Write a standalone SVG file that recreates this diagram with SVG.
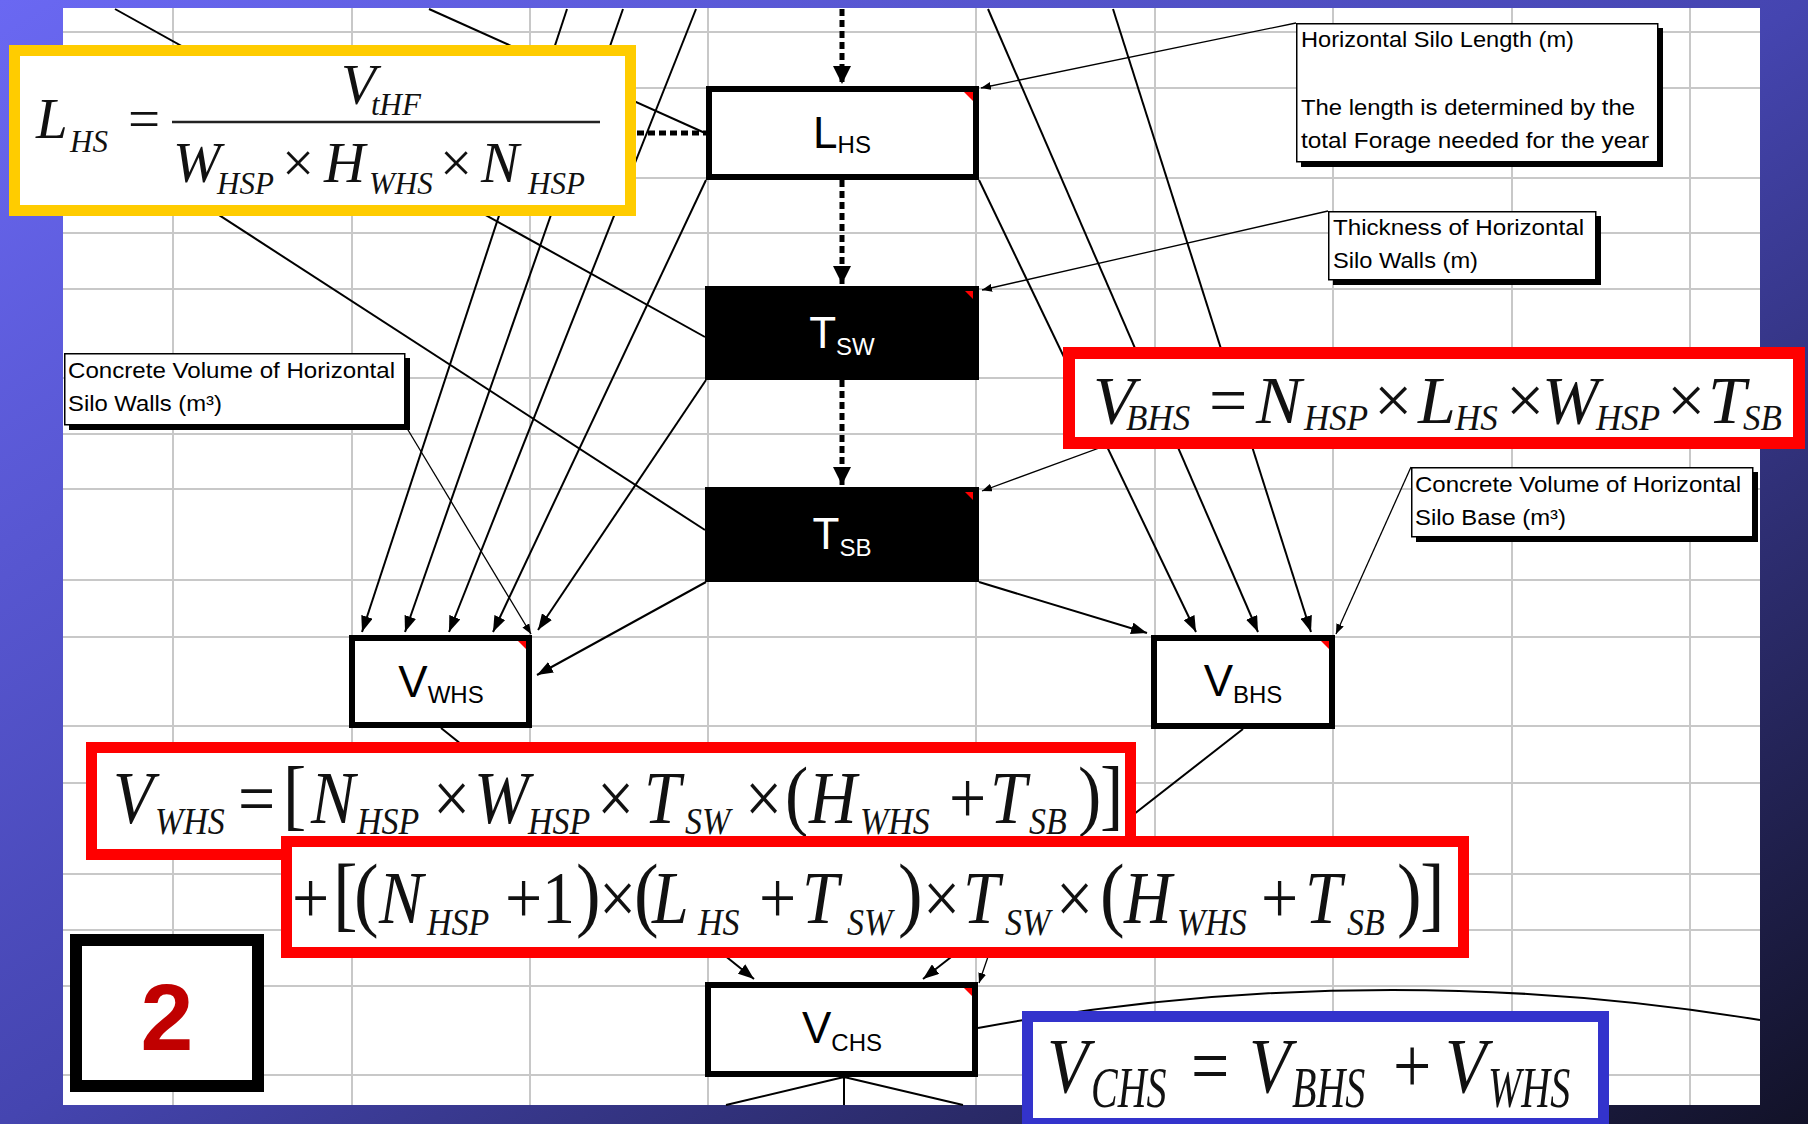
<svg xmlns="http://www.w3.org/2000/svg" width="1808" height="1124" viewBox="0 0 1808 1124">
<defs>
<linearGradient id="bg" x1="0" y1="0" x2="1" y2="1">
<stop offset="0" stop-color="#6a68f2"/>
<stop offset="0.5" stop-color="#4545b0"/>
<stop offset="1" stop-color="#121228"/>
</linearGradient>
<marker id="ah" viewBox="0 0 16 12" refX="16" refY="6" markerWidth="16" markerHeight="12" markerUnits="userSpaceOnUse" orient="auto"><path d="M0,0 L16,6 L0,12 Z" fill="#000"/></marker>
<marker id="ahs" viewBox="0 0 10 8" refX="10" refY="4" markerWidth="10" markerHeight="8" markerUnits="userSpaceOnUse" orient="auto"><path d="M0,0 L10,4 L0,8 Z" fill="#000"/></marker>
<marker id="ahd" viewBox="0 0 18 18" refX="18" refY="9" markerWidth="18" markerHeight="18" markerUnits="userSpaceOnUse" orient="auto"><path d="M0,0 L18,9 L0,18 Z" fill="#000"/></marker>
<style>
.grid{fill:none;stroke:#c8c8c8;stroke-width:2}
.ln{fill:none;stroke:#000;stroke-width:2}
.ar{fill:none;stroke:#000;stroke-width:2;marker-end:url(#ah)}
.pt{fill:none;stroke:#000;stroke-width:1.3;marker-end:url(#ahs)}
.dt{fill:none;stroke:#000;stroke-width:5;stroke-dasharray:7 4}
.dta{marker-end:url(#ahd)}
.box{fill:#fff;stroke:#000;stroke-width:6}
.blk{fill:#000}
.nt{font-family:"Liberation Sans",Arial,sans-serif;font-size:44px;text-anchor:middle;fill:#000}
.wt{fill:#fff}
.ns{font-size:24px}
.red{fill:#f00}
.sh{fill:#000}
.cb{fill:#fff;stroke:#000;stroke-width:1.5}
.ct{font-family:"Liberation Sans",Arial,sans-serif;font-size:22px;fill:#000}
.mi{font-family:"Liberation Serif","Times New Roman",serif;font-style:italic;fill:#111}
.up{font-style:normal}
</style>
</defs>

<rect x="0" y="0" width="1808" height="1124" fill="url(#bg)"/>
<rect x="63" y="8" width="1697" height="1097" fill="#fff"/>
<path class="grid" d="M173,8V1105M352,8V1105M530,8V1105M708,8V1105M976,8V1105M1155,8V1105M1333,8V1105M1512,8V1105M1690,8V1105M63,32H1760M63,88H1760M63,178H1760M63,233H1760M63,289H1760M63,378H1760M63,434H1760M63,489H1760M63,580H1760M63,637H1760M63,726H1760M63,783H1760M63,874H1760M63,930H1760M63,986H1760M63,1075H1760"/>

<g id="connectors">
<path class="ln" d="M115,9 L705,337"/>
<path class="ln" d="M429,9 L705,133"/>
<path class="ln" d="M63,114 L705,530"/>
<path class="ar" d="M567,9 L362,632"/>
<path class="ar" d="M623,9 L405,632"/>
<path class="ar" d="M696,9 L449,632"/>
<path class="ar" d="M706,180 L493,632"/>
<path class="ar" d="M706,380 L538,630"/>
<path class="ar" d="M706,582 L537,675"/>
<path class="ar" d="M979,582 L1147,633"/>
<path class="ar" d="M979,180 L1196,632"/>
<path class="ar" d="M988,9 L1258,632"/>
<path class="ar" d="M1113,9 L1311,632"/>
<path class="ar" d="M441,728 L754,979"/>
<path class="ar" d="M1243,729 L923,979"/>
<path class="ln" d="M844,1077 L726,1105 M844,1077 L844,1105 M844,1077 L963,1105"/>
<path class="ln" d="M978,1028 Q1369,956 1760,1020"/>
<path class="pt" d="M1296,23 L981,88"/>
<path class="pt" d="M1328,211 L982,290"/>
<path class="pt" d="M1170,422 L982,491"/>
<path class="pt" d="M1411,467 L1336,634"/>
<path class="pt" d="M405,425 L531,634"/>
<path class="pt" d="M992,945 L979,983"/>
<path class="dt dta" d="M842,9 L842,84"/>
<path class="dt dta" d="M842,180 L842,284"/>
<path class="dt dta" d="M842,380 L842,485"/>
<path class="dt" d="M637,133 L706,133"/>
</g>

<g id="node-lhs"><rect class="box" x="709" y="89" width="267" height="88"/><polygon class="red" points="964,92 973,92 973,101"/><text class="nt" x="842" y="148">L<tspan class="ns" dy="5">HS</tspan></text></g>
<g id="node-tsw"><rect class="blk" x="705" y="286" width="274" height="94"/><polygon class="red" points="965,291 973,291 973,299"/><text class="nt wt" x="842" y="348">T<tspan class="ns" dy="7">SW</tspan></text></g>
<g id="node-tsb"><rect class="blk" x="705" y="487" width="274" height="95"/><polygon class="red" points="965,492 973,492 973,500"/><text class="nt wt" x="842" y="549">T<tspan class="ns" dy="7">SB</tspan></text></g>
<g id="node-vwhs"><rect class="box" x="352" y="638" width="177" height="87"/><polygon class="red" points="518,641 526,641 526,649"/><text class="nt" x="441" y="697">V<tspan class="ns" dy="6">WHS</tspan></text></g>
<g id="node-vbhs"><rect class="box" x="1154" y="638" width="178" height="88"/><polygon class="red" points="1321,641 1329,641 1329,649"/><text class="nt" x="1243" y="696">V<tspan class="ns" dy="7">BHS</tspan></text></g>
<g id="node-vchs"><rect class="box" x="708" y="985" width="267" height="89"/><polygon class="red" points="964,988 972,988 972,996"/><text class="nt" x="842" y="1043">V<tspan class="ns" dy="8">CHS</tspan></text></g>

<g id="callout-length"><rect class="sh" x="1301" y="28" width="362" height="139"/><rect class="cb" x="1296.75" y="23.75" width="361" height="138"/>
<text class="ct" x="1301" y="47" textLength="273" lengthAdjust="spacingAndGlyphs">Horizontal Silo Length (m)</text>
<text class="ct" x="1301" y="115" textLength="334" lengthAdjust="spacingAndGlyphs">The length is determined by the</text>
<text class="ct" x="1301" y="148" textLength="348" lengthAdjust="spacingAndGlyphs">total Forage needed for the year</text></g>
<g id="callout-thickness"><rect class="sh" x="1333" y="216" width="268" height="69"/><rect class="cb" x="1328.75" y="211.75" width="267" height="68"/>
<text class="ct" x="1333" y="235" textLength="251" lengthAdjust="spacingAndGlyphs">Thickness of Horizontal</text>
<text class="ct" x="1333" y="268" textLength="145" lengthAdjust="spacingAndGlyphs">Silo Walls (m)</text></g>
<g id="callout-base"><rect class="sh" x="1416" y="472" width="342" height="70"/><rect class="cb" x="1411.75" y="467.75" width="341" height="69"/>
<text class="ct" x="1415" y="492" textLength="326" lengthAdjust="spacingAndGlyphs">Concrete Volume of Horizontal</text>
<text class="ct" x="1415" y="525" textLength="151" lengthAdjust="spacingAndGlyphs">Silo Base (m³)</text></g>
<g id="callout-walls"><rect class="sh" x="69" y="358" width="341" height="72"/><rect class="cb" x="64.75" y="353.75" width="340" height="71"/>
<text class="ct" x="68" y="378" textLength="327" lengthAdjust="spacingAndGlyphs">Concrete Volume of Horizontal</text>
<text class="ct" x="68" y="411" textLength="154" lengthAdjust="spacingAndGlyphs">Silo Walls (m³)</text></g>

<g id="formula-lhs">
<rect x="14.5" y="50.5" width="616" height="160" fill="#fff" stroke="#FFCC00" stroke-width="11"/>
<line x1="172" y1="122" x2="600" y2="122" stroke="#222" stroke-width="2.5"/>
<text class="mi" font-size="57"><tspan x="36" y="138">L</tspan><tspan x="70" y="152" font-size="31">HS</tspan><tspan class="up" x="128" y="138">=</tspan><tspan x="341" y="104">V</tspan><tspan x="371" y="115" font-size="31">tHF</tspan><tspan x="173" y="182">W</tspan><tspan x="217" y="194" font-size="31">HSP</tspan><tspan class="up" x="282" y="182">×</tspan><tspan x="324" y="182">H</tspan><tspan x="369" y="194" font-size="31">WHS</tspan><tspan class="up" x="440" y="182">×</tspan><tspan x="481" y="182">N</tspan><tspan x="528" y="194" font-size="31">HSP</tspan></text>
</g>

<g id="formula-vbhs">
<rect x="1069" y="353" width="730" height="90" fill="#fff" stroke="#f00" stroke-width="12"/>
<text class="mi" font-size="68"><tspan x="1093" y="423">V</tspan><tspan x="1126" y="430" font-size="35">BHS</tspan><tspan class="up" x="1209" y="423">=</tspan><tspan x="1256" y="423">N</tspan><tspan x="1304" y="430" font-size="35">HSP</tspan><tspan class="up" x="1374" y="423">×</tspan><tspan x="1418" y="423">L</tspan><tspan x="1455" y="430" font-size="35">HS</tspan><tspan class="up" x="1506" y="423">×</tspan><tspan x="1542" y="423">W</tspan><tspan x="1596" y="430" font-size="35">HSP</tspan><tspan class="up" x="1667" y="423">×</tspan><tspan x="1708" y="423">T</tspan><tspan x="1743" y="430" font-size="35">SB</tspan></text>
</g>

<g id="formula-vwhs">
<rect x="91.5" y="747.5" width="1039" height="107" fill="#fff" stroke="#f00" stroke-width="11"/>
<g transform="translate(0,823) scale(1,1.12) translate(0,-823)">
<text class="mi" font-size="66"><tspan x="113" y="823">V</tspan><tspan x="155" y="833" font-size="34">WHS</tspan><tspan class="up" x="238" y="823">=</tspan><tspan class="up" x="283" y="821" font-size="70">[</tspan><tspan x="311" y="823">N</tspan><tspan x="357" y="833" font-size="34">HSP</tspan><tspan class="up" x="433" y="823">×</tspan><tspan x="474" y="823">W</tspan><tspan x="528" y="833" font-size="34">HSP</tspan><tspan class="up" x="597" y="823">×</tspan><tspan x="644" y="823">T</tspan><tspan x="685" y="833" font-size="34">SW</tspan><tspan class="up" x="745" y="823">×</tspan><tspan class="up" x="785" y="821" font-size="70">(</tspan><tspan x="809" y="823">H</tspan><tspan x="860" y="833" font-size="34">WHS</tspan><tspan class="up" x="949" y="823">+</tspan><tspan x="990" y="823">T</tspan><tspan x="1029" y="833" font-size="34">SB</tspan><tspan class="up" x="1078" y="821" font-size="70">)</tspan><tspan class="up" x="1100" y="821" font-size="70">]</tspan></text>
</g>
<rect x="286.5" y="841.5" width="1177" height="111" fill="#fff" stroke="#f00" stroke-width="11"/>
<g transform="translate(0,923) scale(1,1.12) translate(0,-923)">
<text class="mi" font-size="66"><tspan class="up" x="292" y="923">+</tspan><tspan class="up" x="333" y="921" font-size="74">[</tspan><tspan class="up" x="354" y="921" font-size="74">(</tspan><tspan x="379" y="923">N</tspan><tspan x="427" y="934" font-size="34">HSP</tspan><tspan class="up" x="505" y="923">+</tspan><tspan class="up" x="542" y="923">1</tspan><tspan class="up" x="576" y="921" font-size="74">)</tspan><tspan class="up" x="599" y="923">×</tspan><tspan class="up" x="634" y="921" font-size="74">(</tspan><tspan x="652" y="923">L</tspan><tspan x="698" y="934" font-size="34">HS</tspan><tspan class="up" x="759" y="923">+</tspan><tspan x="802" y="923">T</tspan><tspan x="847" y="934" font-size="34">SW</tspan><tspan class="up" x="898" y="921" font-size="74">)</tspan><tspan class="up" x="923" y="923">×</tspan><tspan x="963" y="923">T</tspan><tspan x="1005" y="934" font-size="34">SW</tspan><tspan class="up" x="1056" y="923">×</tspan><tspan class="up" x="1100" y="921" font-size="74">(</tspan><tspan x="1124" y="923">H</tspan><tspan x="1177" y="934" font-size="34">WHS</tspan><tspan class="up" x="1261" y="923">+</tspan><tspan x="1305" y="923">T</tspan><tspan x="1347" y="934" font-size="34">SB</tspan><tspan class="up" x="1397" y="921" font-size="74">)</tspan><tspan class="up" x="1420" y="921" font-size="74">]</tspan></text>
</g>
</g>

<g id="formula-vchs">
<rect x="1027.5" y="1016.5" width="576" height="107" fill="#fff" stroke="#3333cc" stroke-width="11"/>
<g transform="translate(0,1092) scale(1,1.15) translate(0,-1092)">
<text class="mi" font-size="68"><tspan x="1047" y="1092">V</tspan><tspan class="up" x="1191" y="1092">=</tspan><tspan x="1249" y="1092">V</tspan><tspan class="up" x="1393" y="1092">+</tspan><tspan x="1445" y="1092">V</tspan></text>
</g>
<text class="mi" font-size="40" transform="translate(1091,1107) scale(1,1.45)">CHS</text>
<text class="mi" font-size="40" transform="translate(1292,1107) scale(1,1.45)">BHS</text>
<text class="mi" font-size="40" transform="translate(1488,1107) scale(1,1.45)">WHS</text>
</g>

<g id="label-2">
<rect x="76" y="940" width="182" height="146" fill="#fff" stroke="#000" stroke-width="12"/>
<text x="167" y="1050" font-family="Liberation Sans, Arial, sans-serif" font-weight="bold" font-size="95" fill="#c00000" text-anchor="middle">2</text>
</g>
</svg>
